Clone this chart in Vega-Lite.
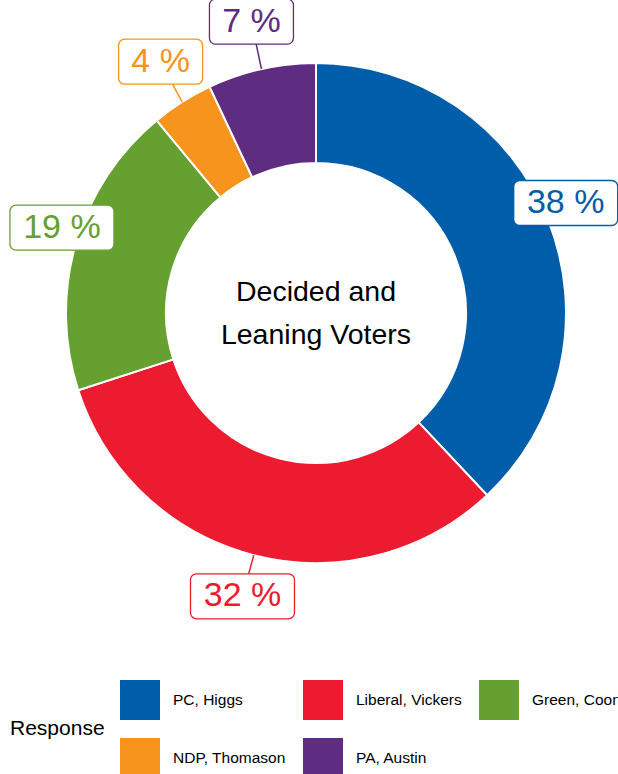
{
  "$schema": "https://vega.github.io/schema/vega-lite/v6.json",
  "width": 618,
  "height": 774,
  "padding": 0,
  "autosize": {"type": "none"},
  "config": {"view": {"stroke": null}, "font": "Liberation Sans"},
  "data": {"values": [
    {"response": "PC, Higgs", "pct": 38},
    {"response": "Liberal, Vickers", "pct": 32},
    {"response": "Green, Coon", "pct": 19},
    {"response": "NDP, Thomason", "pct": 4},
    {"response": "PA, Austin", "pct": 7}
  ]},
  "transform": [
    {"window": [{"op": "sum", "field": "pct", "as": "cum"}, {"op": "row_number", "as": "rank"}], "frame": [null, 0]},
    {"joinaggregate": [{"op": "sum", "field": "pct", "as": "total"}]},
    {"calculate": "2*PI*(datum.cum - datum.pct/2)/datum.total", "as": "ang"},
    {"calculate": "252 + 45*abs(cos(datum.ang))", "as": "lr"},
    {"calculate": "datum.lr*sin(datum.ang)", "as": "lx"},
    {"calculate": "datum.lr*cos(datum.ang) + 12*abs(sin(datum.ang))", "as": "ly"},
    {"calculate": "250*sin(datum.ang)", "as": "ex"},
    {"calculate": "250*cos(datum.ang)", "as": "ey"},
    {"calculate": "datum.pct + ' %'", "as": "lab"}
  ],
  "layer": [
    {
      "mark": {"type": "arc", "outerRadius": 250, "innerRadius": 150, "stroke": "white", "strokeWidth": 2},
      "encoding": {
        "theta": {"field": "pct", "type": "quantitative", "stack": true},
        "order": {"field": "rank", "type": "quantitative"},
        "x": {"datum": 0, "type": "quantitative", "scale": {"domain": [-316, 302], "nice": false, "zero": false}, "axis": null},
        "y": {"datum": 0, "type": "quantitative", "scale": {"domain": [-461, 313], "nice": false, "zero": false}, "axis": null},
        "color": {
          "field": "response", "type": "nominal",
          "scale": {"domain": ["PC, Higgs", "Liberal, Vickers", "Green, Coon", "NDP, Thomason", "PA, Austin"],
                    "range": ["#005DAA", "#ED1B2F", "#66A030", "#F7941E", "#5E2D82"]},
          "legend": {
            "orient": "none", "legendX": 10, "legendY": 680,
            "direction": "horizontal", "columns": 3,
            "title": "Response", "titleOrient": "left", "titleAnchor": "middle", "titleBaseline": "middle",
            "titleFont": "Liberation Sans", "titleFontSize": 21, "titleFontWeight": "normal", "titleColor": "black", "titlePadding": 15,
            "symbolType": "square", "symbolSize": 1600, "symbolStrokeWidth": 0, "symbolOpacity": 1,
            "labelFont": "Liberation Sans", "labelFontSize": 15.5, "labelColor": "black", "labelOffset": 13,
            "columnPadding": 17, "rowPadding": 18, "gridAlign": "each", "padding": 0
          }
        }
      }
    },
    {
      "mark": {"type": "rule", "strokeWidth": 1.5},
      "encoding": {
        "x": {"field": "ex", "type": "quantitative", "scale": {"domain": [-316, 302], "nice": false, "zero": false}, "axis": null},
        "y": {"field": "ey", "type": "quantitative", "scale": {"domain": [-461, 313], "nice": false, "zero": false}, "axis": null},
        "x2": {"field": "lx"},
        "y2": {"field": "ly"},
        "stroke": {
          "field": "response", "type": "nominal",
          "scale": {"domain": ["PC, Higgs", "Liberal, Vickers", "Green, Coon", "NDP, Thomason", "PA, Austin"],
                    "range": ["#005DAA", "#ED1B2F", "#66A030", "#F7941E", "#5E2D82"]},
          "legend": null
        }
      }
    },
    {
      "mark": {"type": "point", "filled": true, "fill": "white", "fillOpacity": 1, "opacity": 1, "strokeWidth": 1.3},
      "encoding": {
        "x": {"field": "lx", "type": "quantitative", "scale": {"domain": [-316, 302], "nice": false, "zero": false}, "axis": null},
        "y": {"field": "ly", "type": "quantitative", "scale": {"domain": [-461, 313], "nice": false, "zero": false}, "axis": null},
        "size": {"value": 10000},
        "shape": {
          "condition": {"test": "datum.pct < 10", "value": "M-0.72,-0.45 H0.72 A0.12,0.12 0 0 1 0.84,-0.33 V0.33 A0.12,0.12 0 0 1 0.72,0.45 H-0.72 A0.12,0.12 0 0 1 -0.84,0.33 V-0.33 A0.12,0.12 0 0 1 -0.72,-0.45 Z"},
          "value": "M-0.92,-0.45 H0.92 A0.12,0.12 0 0 1 1.04,-0.33 V0.33 A0.12,0.12 0 0 1 0.92,0.45 H-0.92 A0.12,0.12 0 0 1 -1.04,0.33 V-0.33 A0.12,0.12 0 0 1 -0.92,-0.45 Z"
        },
        "stroke": {
          "field": "response", "type": "nominal",
          "scale": {"domain": ["PC, Higgs", "Liberal, Vickers", "Green, Coon", "NDP, Thomason", "PA, Austin"],
                    "range": ["#005DAA", "#ED1B2F", "#66A030", "#F7941E", "#5E2D82"]},
          "legend": null
        }
      }
    },
    {
      "mark": {"type": "text", "font": "Liberation Sans", "fontSize": 34, "align": "center", "baseline": "middle"},
      "encoding": {
        "x": {"field": "lx", "type": "quantitative", "scale": {"domain": [-316, 302], "nice": false, "zero": false}, "axis": null},
        "y": {"field": "ly", "type": "quantitative", "scale": {"domain": [-461, 313], "nice": false, "zero": false}, "axis": null},
        "text": {"field": "lab"},
        "fill": {
          "field": "response", "type": "nominal",
          "scale": {"domain": ["PC, Higgs", "Liberal, Vickers", "Green, Coon", "NDP, Thomason", "PA, Austin"],
                    "range": ["#005DAA", "#ED1B2F", "#66A030", "#F7941E", "#5E2D82"]},
          "legend": null
        }
      }
    },
    {
      "data": {"values": [{"caption": "Decided and Leaning Voters"}]},
      "mark": {"type": "text", "font": "Liberation Sans", "fontSize": 28.5, "align": "center", "baseline": "middle", "lineHeight": 43, "dy": -21, "color": "black",
               "text": ["Decided and", "Leaning Voters"]},
      "encoding": {
        "x": {"datum": 0, "type": "quantitative", "scale": {"domain": [-316, 302], "nice": false, "zero": false}, "axis": null},
        "y": {"datum": 0, "type": "quantitative", "scale": {"domain": [-461, 313], "nice": false, "zero": false}, "axis": null}
      }
    }
  ]
}
